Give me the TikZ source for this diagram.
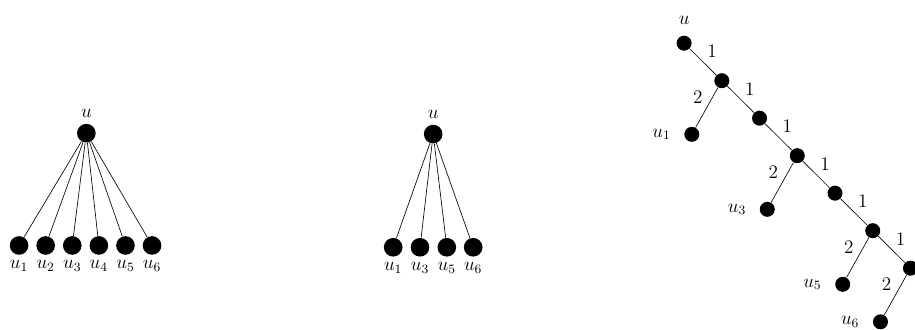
\documentclass[tikz,border=0pt]{standalone}
\usetikzlibrary{positioning}

\tikzset{
  dot/.style={circle, fill, inner sep=0pt, minimum size=0.41cm},
  sdot/.style={circle, fill, inner sep=0pt, minimum size=0.33cm},
  wt/.style={inner sep=2.5pt},
}

\begin{document}
\begin{tikzpicture}[every label/.style={font=\large}, font=\large]
  \useasboundingbox (0,0) rectangle (20.13,7.24);

  % first star: u with u_1..u_6
  \node [dot, label=above:$u$] (u) at (1.9,4.31) {};
  \node [dot, label=below:$u_1$] (u1) at (0.42,1.84) {};
  \node [dot, label=below:$u_2$] (u2) at (1.005,1.84) {};
  \node [dot, label=below:$u_3$] (u3) at (1.59,1.84) {};
  \node [dot, label=below:$u_4$] (u4) at (2.175,1.84) {};
  \node [dot, label=below:$u_5$] (u5) at (2.76,1.84) {};
  \node [dot, label=below:$u_6$] (u6) at (3.345,1.84) {};

  \draw (u) -- (u1);
  \draw (u) -- (u2);
  \draw (u) -- (u3);
  \draw (u) -- (u4);
  \draw (u) -- (u5);
  \draw (u) -- (u6);

  % second star: u with u_1,u_3,u_5,u_6
  \node [dot, label=above:$u$] (v) at (9.53,4.29) {};
  \node [dot, label=below:$u_1$] (v1) at (8.65,1.80) {};
  \node [dot, label=below:$u_3$] (v3) at (9.24,1.80) {};
  \node [dot, label=below:$u_5$] (v5) at (9.83,1.80) {};
  \node [dot, label=below:$u_6$] (v6) at (10.41,1.80) {};

  \draw (v) -- (v1);
  \draw (v) -- (v3);
  \draw (v) -- (v5);
  \draw (v) -- (v6);

  % weighted path
  \node [sdot, label={[label distance=0.12cm]above:$u$}] (s0) at (15.05,6.29) {};
  \node [sdot] (s1) at (15.88,5.465) {};
  \node [sdot] (s2) at (16.71,4.64) {};
  \node [sdot] (s3) at (17.54,3.815) {};
  \node [sdot] (s4) at (18.37,2.99) {};
  \node [sdot] (s5) at (19.20,2.165) {};
  \node [sdot] (s6) at (20.03,1.34) {};

  \node [sdot, on grid, below left=1.18cm and 0.66cm of s1, label={[label distance=0.17cm]left:$u_1$}] (w1) {};
  \node [sdot, on grid, below left=1.18cm and 0.66cm of s3, label={[label distance=0.17cm]left:$u_3$}] (w3) {};
  \node [sdot, on grid, below left=1.18cm and 0.66cm of s5, label={[label distance=0.17cm]left:$u_5$}] (w5) {};
  \node [sdot, on grid, below left=1.18cm and 0.66cm of s6, label={[label distance=0.17cm]left:$u_6$}] (w6) {};

  \draw (s0) -- node[wt, above right] {1} (s1);
  \draw (s1) -- node[wt, above right] {1} (s2);
  \draw (s2) -- node[wt, above right] {1} (s3);
  \draw (s3) -- node[wt, above right] {1} (s4);
  \draw (s4) -- node[wt, above right] {1} (s5);
  \draw (s5) -- node[wt, above right] {1} (s6);

  \draw (s1) -- node[wt, above left] {2} (w1);
  \draw (s3) -- node[wt, above left] {2} (w3);
  \draw (s5) -- node[wt, above left] {2} (w5);
  \draw (s6) -- node[wt, above left] {2} (w6);
\end{tikzpicture}
\end{document}
